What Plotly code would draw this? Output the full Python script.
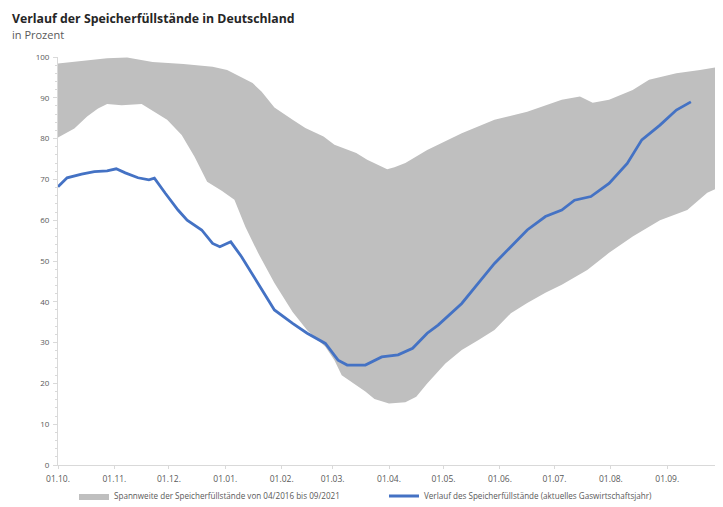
import plotly.graph_objects as go
import pandas as pd

# ---- data ----
upper_dates = ["2021-10-01","2021-10-10","2021-10-28","2021-11-08","2021-11-22","2021-12-09","2021-12-25",
               "2022-01-02","2022-01-16","2022-01-21","2022-01-28","2022-02-07","2022-02-14","2022-02-24",
               "2022-03-02","2022-03-14","2022-03-20","2022-03-31","2022-04-04","2022-04-10","2022-04-22",
               "2022-05-11","2022-05-29","2022-06-16","2022-07-05","2022-07-15","2022-07-22","2022-07-31",
               "2022-08-13","2022-08-22","2022-09-06","2022-09-19","2022-09-30"]
upper_vals = [98.4, 98.8, 99.7, 99.9, 98.8, 98.3, 97.6,
              96.8, 93.6, 91.5, 87.6, 84.6, 82.6, 80.5,
              78.5, 76.5, 74.8, 72.5, 73.0, 74.0, 77.2,
              81.3, 84.6, 86.6, 89.5, 90.3, 88.8, 89.5,
              91.9, 94.4, 96.0, 96.8, 97.6]

lower_dates = ["2021-10-01","2021-10-10","2021-10-17","2021-10-23","2021-10-28","2021-11-05","2021-11-16",
               "2021-11-23","2021-11-30","2021-12-08","2021-12-15","2021-12-22","2021-12-30","2022-01-06",
               "2022-01-12","2022-01-19","2022-01-28","2022-02-07","2022-02-15","2022-02-25","2022-03-02",
               "2022-03-06","2022-03-12","2022-03-19","2022-03-24","2022-04-01","2022-04-10","2022-04-16",
               "2022-04-22","2022-05-02","2022-05-11","2022-05-20","2022-05-29","2022-06-07","2022-06-16",
               "2022-06-26","2022-07-05","2022-07-19","2022-07-31","2022-08-13","2022-08-28","2022-09-12",
               "2022-09-23","2022-09-30"]
lower_vals = [80.3, 82.5, 85.4, 87.4, 88.5, 88.2, 88.5,
              86.6, 84.6, 80.9, 75.6, 69.4, 67.2, 65.0,
              58.4, 52.0, 44.6, 37.5, 33.0, 29.0, 25.7,
              22.0, 20.2, 18.0, 16.2, 15.1, 15.4, 16.7,
              20.0, 24.9, 28.2, 30.6, 33.1, 37.2, 39.7,
              42.2, 44.2, 47.8, 52.0, 56.0, 60.0, 62.5,
              66.7, 68.2]

current_dates = ["2021-10-01","2021-10-06","2021-10-14","2021-10-21","2021-10-28","2021-11-02","2021-11-07",
                 "2021-11-14","2021-11-20","2021-11-23","2021-11-29","2021-12-06","2021-12-11","2021-12-19",
                 "2021-12-25","2021-12-29","2022-01-04","2022-01-10","2022-01-19","2022-01-28","2022-02-07",
                 "2022-02-15","2022-02-25","2022-03-04","2022-03-09","2022-03-19","2022-03-28","2022-04-06",
                 "2022-04-14","2022-04-22","2022-04-28","2022-05-11","2022-05-20","2022-05-29","2022-06-07",
                 "2022-06-16","2022-06-26","2022-07-05","2022-07-12","2022-07-21","2022-07-31","2022-08-10",
                 "2022-08-18","2022-08-28","2022-09-06","2022-09-14"]
current_vals = [68.2, 70.4, 71.3, 71.9, 72.1, 72.6, 71.6,
                70.4, 69.9, 70.3, 66.6, 62.5, 60.0, 57.6,
                54.3, 53.5, 54.7, 51.0, 44.5, 38.0, 34.7,
                32.3, 29.8, 25.7, 24.5, 24.5, 26.5, 27.0,
                28.6, 32.3, 34.3, 39.6, 44.5, 49.4, 53.5,
                57.6, 60.9, 62.5, 64.9, 65.8, 69.0, 73.9,
                79.7, 83.3, 87.0, 89.0]

tick_dates = ["2021-10-01","2021-11-01","2021-12-01","2022-01-01","2022-02-01","2022-03-01",
              "2022-04-01","2022-05-01","2022-06-01","2022-07-01","2022-08-01","2022-09-01"]
tick_labels = ["01.10.","01.11.","01.12.","01.01.","01.02.","01.03.",
               "01.04.","01.05.","01.06.","01.07.","01.08.","01.09."]
axis_start = "2021-10-01"
axis_end = "2022-09-30"

title_text = "Verlauf der Speicherfüllstände in Deutschland"
subtitle_text = "in Prozent"
band_name = "Spannweite der Speicherfüllstände von 04/2016 bis 09/2021"
line_name = "Verlauf des Speicherfüllstände (aktuelles Gaswirtschaftsjahr)"

# convert dates to day offsets from the start of the gas year (linear axis)
t0 = pd.Timestamp(axis_start)
def days(lst):
    return [(pd.Timestamp(d) - t0).days for d in lst]

FONT = "Open Sans"
GREY_TXT = "#595959"

ux, lx, cx = days(upper_dates), days(lower_dates), days(current_dates)

fig = go.Figure()
fig.add_trace(go.Scatter(
    x=ux + lx[::-1],
    y=upper_vals + lower_vals[::-1],
    fill="toself", fillcolor="#bfbfbf", mode="lines",
    line=dict(width=0, color="#bfbfbf"), name=band_name, hoverinfo="skip"))
fig.add_trace(go.Scatter(
    x=cx, y=current_vals, mode="lines",
    line=dict(color="#4472c4", width=2.8), name=line_name))

# page body has an 8px default margin -> figure is 715x499 so it fits the 723x507 window
fig.update_layout(
    width=715, height=499,
    margin=dict(l=50, r=3, t=49, b=42, autoexpand=False),
    paper_bgcolor="white", plot_bgcolor="white",
    font=dict(family=FONT, color=GREY_TXT, size=8),
    showlegend=True,
    legend=dict(orientation="h", xref="container", yref="container",
                x=0.0923, xanchor="left", y=0.022, yanchor="middle",
                font=dict(size=8.1, color=GREY_TXT), entrywidth=265, traceorder="normal",
                itemwidth=30),
    xaxis=dict(range=[0, days([axis_end])[0]], automargin=False,
               tickmode="array", tickvals=days(tick_dates), ticktext=tick_labels,
               showgrid=False, zeroline=False, showline=True, linecolor="#d9d9d9",
               ticks="outside", ticklen=3, tickcolor="#d9d9d9", ticklabelstandoff=3,
               tickfont=dict(size=8.5, color=GREY_TXT)),
    yaxis=dict(range=[0, 100], dtick=10, showgrid=False, zeroline=False, automargin=False,
               showline=True, linecolor="#d9d9d9", ticks="outside", ticklen=4,
               tickcolor="#d9d9d9", ticklabelstandoff=2, tickfont=dict(size=8, color=GREY_TXT),
               minor=dict(ticks="outside", ticklen=2, dtick=2, tickcolor="#d9d9d9")),
    annotations=[
        dict(text=f"<b>{title_text}</b><br><span style='font-size:11px;color:{GREY_TXT};'>{subtitle_text}</span>",
             xref="paper", yref="paper", x=-0.0725, y=1.12, xanchor="left", yanchor="top",
             align="left", showarrow=False,
             font=dict(size=12.3, color="#262626", family=FONT)),
    ],
)

fig.write_html("out.html")
